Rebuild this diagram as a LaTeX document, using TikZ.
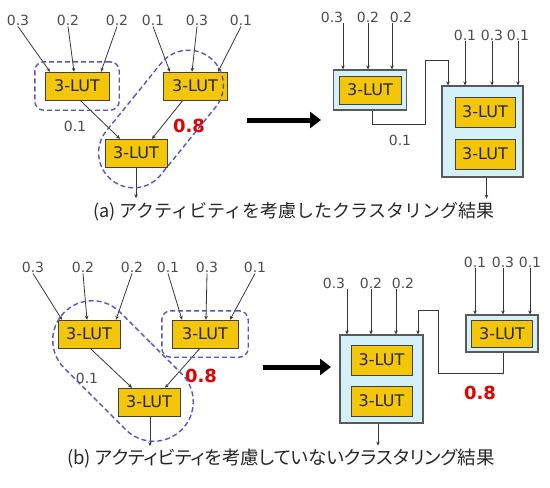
\documentclass[tikz,border=0pt]{standalone}
\usepackage{fontspec}
\setmainfont{DejaVu Sans}
\newfontfamily\jpfont{Noto Sans CJK JP}
\newfontfamily\jppfont[RawFeature=+palt]{Noto Sans CJK JP}
\usetikzlibrary{arrows.meta,fit,shapes.misc}
\definecolor{lutgold}{RGB}{244,198,10}
\definecolor{clcyan}{RGB}{212,240,248}
\definecolor{dashblue}{RGB}{84,84,200}
\definecolor{wiregray}{RGB}{55,55,55}
\tikzset{
  lut/.style={draw=black!75,fill=lutgold,minimum width=64pt,minimum height=28pt,
    inner sep=0pt,text=black!85,font=\fontsize{16}{16}\selectfont},
  val/.style={inner sep=1pt,text=black!70,font=\fontsize{14}{14}\selectfont},
  hot/.style={inner sep=1pt,text=red!90!black,font=\bfseries\fontsize{18}{18}\selectfont},
  clus/.style={draw=black!65,fill=clcyan,line width=1.2pt,inner sep=0pt},
  wire/.style={draw=wiregray,line width=0.8pt,-{Stealth[length=4pt,width=3.5pt]}},
  grp/.style={draw=dashblue,line width=1.4pt,dash pattern=on 5pt off 3pt,rounded corners=9pt},
  loop/.style={draw=dashblue,line width=1.4pt,dash pattern=on 5pt off 3pt,rounded rectangle,
    inner sep=0pt},
  bigarrow/.style={line width=5pt,-{Triangle[length=11pt,width=16pt]}},
  captext/.style={inner sep=0pt,text=black!85}
}
\begin{document}
\begin{tikzpicture}[x=1pt,y=-1pt]
  \useasboundingbox (0,0) rectangle (550,488);
  \foreach \n/\t/\x in {1/0.3/18,2/0.2/68,3/0.2/117,4/0.1/153,5/0.3/197,6/0.1/241}
    \node[val] (la\n) at (\x,20) {\t};
  \node[lut] (ta1) at (77,86) {3-LUT};
  \node[lut] (ta2) at (195,86) {3-LUT};
  \node[lut,minimum width=62pt] (ta3) at (136,153) {3-LUT};
  \foreach \n/\d in {1/-27,2/-3,3/24} \draw[wire] (la\n.south) -- ([xshift=\d pt]ta1.north);
  \foreach \n/\d in {4/-25,5/-3,6/23} \draw[wire] (la\n.south) -- ([xshift=\d pt]ta2.north);
  \draw[wire] ([xshift=3pt]ta1.south) -- ([xshift=-16pt]ta3.north);
  \draw[wire] ([xshift=-12pt]ta2.south) -- ([xshift=16pt]ta3.north);
  \draw[wire] (ta3.south) -- ++(0,31);
  \node[val] (wa) at (75,126) {0.1}; \node[hot] (ha) at (189,126) {0.8};
  \node[grp,fit=(ta1),inner xsep=10pt,inner ysep=10pt] (ga) {};
  \node[loop,minimum width=157pt,minimum height=70pt,rotate=51] (la) at (161,119) {};
  \coordinate (pa) at (247,120); \coordinate (qa) at (321,120);
  \draw[bigarrow] (pa) -- (qa);
  \node[clus,minimum width=73pt,minimum height=40pt] (sa) at (370,90) {};
  \node[lut,minimum width=62pt] (sa1) at (sa) {3-LUT};
  \node[clus,minimum width=81pt,minimum height=91pt] (ka) at (482.5,131.5) {};
  \node[lut,minimum width=60pt,minimum height=30pt] (ka1) at (485,112) {3-LUT};
  \node[lut,minimum width=60pt,minimum height=30pt] (ka2) at (485,154) {3-LUT};
  \foreach \n/\t/\x/\d in {1/0.3/332/11,2/0.2/368/0,3/0.2/401/-9}{
    \node[val] (ra\n) at (\x,17) {\t};
    \draw[wire] ([xshift=\d pt]ra\n.south) -- ([xshift=\d pt]ra\n.south |- sa.north);}
  \foreach \n/\t/\x in {4/0.1/465,5/0.3/492,6/0.1/518}{
    \node[val] (ra\n) at (\x,35) {\t};
    \draw[wire] (ra\n.south) -- (ra\n.south |- ka.north);}
  \draw[wire] ([xshift=2pt]sa.south) |- (425,124) -- (425,60) -| ([xshift=-34.5pt]ka.north);
  \node[val] (wr) at (400,140) {0.1};
  \draw[wire] ([xshift=4pt]ka.south) -- ++(0,21);
  \node[captext,font=\jpfont\fontsize{18}{18}\selectfont] (capa) at (294,212)
    {(a) アクティビティを考慮したクラスタリング結果};
  \foreach \n/\t/\x in {1/0.3/33,2/0.2/83,3/0.2/132,4/0.1/168,5/0.3/207,6/0.1/255}
    \node[val] (lb\n) at (\x,267) {\t};
  \node[lut,minimum width=62pt] (tb1) at (89,334) {3-LUT};
  \node[lut,minimum width=66pt] (tb2) at (205,334) {3-LUT};
  \node[lut,minimum width=62pt] (tb3) at (149,402) {3-LUT};
  \foreach \n/\d in {1/-27,2/-2,3/27} \draw[wire] (lb\n.south) -- ([xshift=\d pt]tb1.north);
  \foreach \n/\d in {4/-23,5/1,6/25} \draw[wire] (lb\n.south) -- ([xshift=\d pt]tb2.north);
  \draw[wire] ([xshift=1pt]tb1.south) -- ([xshift=-17pt]tb3.north);
  \draw[wire] ([xshift=-5pt]tb2.south) -- ([xshift=16pt]tb3.north);
  \draw[wire] ([xshift=1pt]tb3.south) -- ++(0,30);
  \node[val] (wb) at (87,378) {0.1}; \node[hot] (hb) at (201,376) {0.8};
  \node[grp,fit=(tb2),inner xsep=10pt,inner ysep=9pt] (gb) {};
  \node[loop,minimum width=166pt,minimum height=79pt,rotate=-45] (lbb) at (123,371) {};
  \coordinate (pb) at (263,367); \coordinate (qb) at (331,367);
  \draw[bigarrow] (pb) -- (qb);
  \node[clus,minimum width=83pt,minimum height=88pt] (kb) at (381.5,379) {};
  \node[lut,minimum width=61pt,minimum height=30pt] (kb1) at (381.5,360) {3-LUT};
  \node[lut,minimum width=61pt,minimum height=30pt] (kb2) at (381.5,401) {3-LUT};
  \node[clus,minimum width=72pt,minimum height=37pt] (sb) at (502,333.5) {};
  \node[lut,minimum width=61pt,minimum height=27pt] (sb1) at (sb) {3-LUT};
  \foreach \n/\t/\x/\d in {1/0.3/334/13,2/0.2/371/0,3/0.2/403/-7}{
    \node[val] (rb\n) at (\x,283) {\t};
    \draw[wire] ([xshift=\d pt]rb\n.south) -- ([xshift=\d pt]rb\n.south |- kb.north);}
  \foreach \n/\t/\x in {4/0.1/475,5/0.3/503,6/0.1/530}{
    \node[val] (rb\n) at (\x,262) {\t};
    \draw[wire] (rb\n.south) -- (rb\n.south |- sb.north);}
  \draw[wire] ([xshift=1pt]sb.south) |- (438,373) -- (438,310) -| ([xshift=36.5pt]kb.north);
  \node[hot] (hr) at (480,393) {0.8};
  \draw[wire] ([xshift=-3.5pt]kb.south) -- ++(0,22);
  \node[captext,font=\jppfont\fontsize{18.5}{18.5}\selectfont] (capb) at (281,459)
    {(b) アクティビティを考慮していないクラスタリング結果};
\end{tikzpicture}
\end{document}
